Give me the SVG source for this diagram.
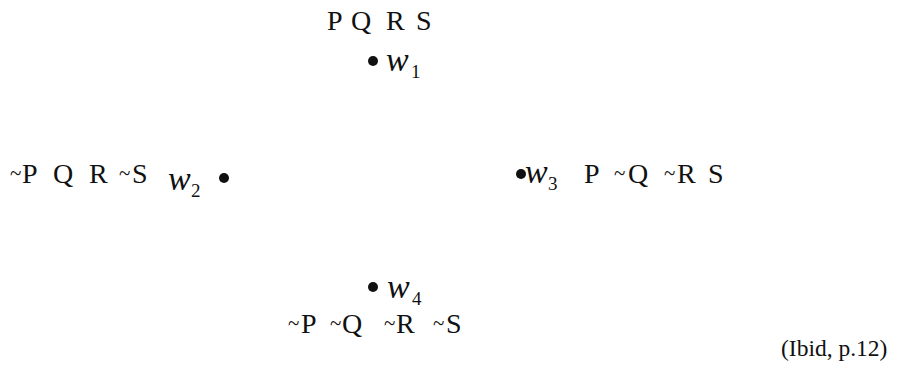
<svg xmlns="http://www.w3.org/2000/svg" width="904" height="373" viewBox="0 0 904 373">
<style>
.t{font-family:"Liberation Serif","Times New Roman",serif;font-size:28px;fill:#111}
.n{font-family:"Liberation Serif","Times New Roman",serif;font-size:21px;fill:#111}
.w{font-family:"Liberation Serif","Times New Roman",serif;font-size:34px;font-style:italic;fill:#111}
.s{font-family:"Liberation Serif","Times New Roman",serif;font-size:19px;fill:#111}
.c{font-family:"Liberation Serif","Times New Roman",serif;font-size:23.5px;fill:#111}
.b{fill:#111}
</style>
<rect width="904" height="373" fill="#fff"/>
<g id="w1">
<text class="t" y="30"><tspan x="327">P</tspan><tspan x="351">Q</tspan><tspan x="386">R</tspan><tspan x="416">S</tspan></text>
<circle class="b" cx="373" cy="61" r="5"/>
<text class="w" x="386" y="71">w</text>
<text class="s" x="411" y="78">1</text>
</g>
<g id="w2">
<text class="n" x="10" y="180">~</text>
<text class="n" x="119" y="180">~</text>
<text class="t" y="183"><tspan x="22">P</tspan><tspan x="53">Q</tspan><tspan x="89">R</tspan><tspan x="132">S</tspan></text>
<text class="w" x="168" y="190">w</text>
<text class="s" x="191" y="197">2</text>
<circle class="b" cx="224" cy="178" r="5"/>
</g>
<g id="w3">
<circle class="b" cx="521" cy="174" r="5"/>
<text class="w" x="525" y="183">w</text>
<text class="s" x="548" y="190">3</text>
<text class="n" x="614" y="180">~</text>
<text class="n" x="664" y="180">~</text>
<text class="t" y="183"><tspan x="584">P</tspan><tspan x="628">Q</tspan><tspan x="677">R</tspan><tspan x="708">S</tspan></text>
</g>
<g id="w4">
<circle class="b" cx="373" cy="287" r="5"/>
<text class="w" x="387" y="298">w</text>
<text class="s" x="412" y="305">4</text>
<text class="n" x="288" y="330">~</text>
<text class="n" x="330" y="330">~</text>
<text class="n" x="384" y="330">~</text>
<text class="n" x="433" y="330">~</text>
<text class="t" y="333"><tspan x="301">P</tspan><tspan x="342">Q</tspan><tspan x="396">R</tspan><tspan x="446">S</tspan></text>
</g>
<g id="connectors"></g>
<text class="c" x="781" y="356">(Ibid, p.12)</text>
</svg>
